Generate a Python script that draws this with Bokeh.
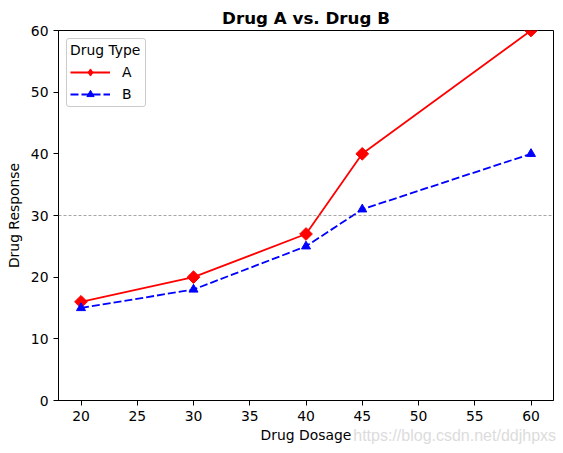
import math
from bokeh.plotting import figure
from bokeh.models import Span, Label, Legend, LegendItem, FixedTicker, Range1d
from bokeh.embed import file_html
from bokeh.resources import INLINE

dosage = [20, 30, 40, 45, 60]
resp_a = [16, 20, 27, 40, 60]
resp_b = [15, 18, 25, 31, 40]
x_ticks = [20, 25, 30, 35, 40, 45, 50, 55, 60]
y_ticks = [0, 10, 20, 30, 40, 50, 60]
watermark = "https://blog.csdn.net/ddjhpxs"

FONT = "DejaVu Sans"

p = figure(frame_width=495, frame_height=370, output_backend="svg", toolbar_location=None,
           x_range=Range1d(18, 62), y_range=Range1d(0, 60),
           min_border_left=58, min_border_right=10, min_border_top=30, min_border_bottom=10)

p.title.text = "Drug A vs. Drug B"
p.title.align = "center"
p.title.text_font = FONT
p.title.text_font_size = "16.7px"
p.title.text_font_style = "bold"
p.title.text_color = "black"
p.title.standoff = 6

p.xgrid.visible = False
p.ygrid.visible = False
p.outline_line_color = "black"
p.outline_line_width = 1

for ax in (p.xaxis[0], p.yaxis[0]):
    ax.major_label_text_font = FONT
    ax.major_label_text_font_size = "13.9px"
    ax.major_label_text_color = "black"
    ax.axis_label_text_font = FONT
    ax.axis_label_text_font_size = "13.9px"
    ax.axis_label_text_font_style = "normal"
    ax.axis_label_text_color = "black"
    ax.minor_tick_line_color = None
    ax.major_tick_out = 5
    ax.major_tick_in = 0
    ax.major_tick_line_color = "black"
    ax.axis_line_color = "black"

p.xaxis.ticker = FixedTicker(ticks=x_ticks)
p.yaxis.ticker = FixedTicker(ticks=y_ticks)
p.xaxis.axis_label = "Drug Dosage"
p.yaxis.axis_label = "Drug Response"
p.xaxis.axis_label_standoff = 3
p.yaxis.axis_label_standoff = 6

p.add_layout(Span(location=30, dimension="width", line_color="gray",
                  line_width=0.7, line_dash="3 2"))

la = p.line(dosage, resp_a, line_color="red", line_width=1.8)
ma = p.scatter(dosage, resp_a, marker="square", angle=math.pi / 4, size=9, color="red")
lb = p.line(dosage, resp_b, line_color="blue", line_width=1.8, line_dash="8 3")
mb = p.scatter(dosage, resp_b, marker="triangle", size=9, color="blue")

# hidden legend key for the diamond marker (legend glyphs ignore the marker angle)
ma_key = p.scatter(dosage, resp_a, marker="diamond", size=13, color="red", visible=False)

legend = Legend(items=[LegendItem(label="A", renderers=[la, ma_key]),
                       LegendItem(label="B", renderers=[lb, mb])],
                location="top_left", title="Drug Type")
legend.title_text_font = FONT
legend.title_text_font_size = "13.9px"
legend.title_text_font_style = "normal"
legend.title_text_color = "black"
legend.title_standoff = 5
legend.label_text_font = FONT
legend.label_text_font_size = "13.9px"
legend.label_text_color = "black"
legend.border_line_color = "#cccccc"
legend.border_line_alpha = 1
legend.background_fill_alpha = 0.8
legend.inactive_fill_alpha = 0
legend.border_radius = 3
legend.glyph_width = 40
legend.glyph_height = 18
legend.label_standoff = 12
legend.spacing = 4
legend.padding = 3
legend.margin = 8
p.add_layout(legend)

p.add_layout(Label(x=44.2, y=-5.7, text=watermark,
                   text_font="Liberation Sans",
                   text_font_size="16px", text_color="#dcdcdc",
                   text_baseline="middle", text_align="left"), "below")

open("out.html", "w").write(file_html(p, INLINE))
